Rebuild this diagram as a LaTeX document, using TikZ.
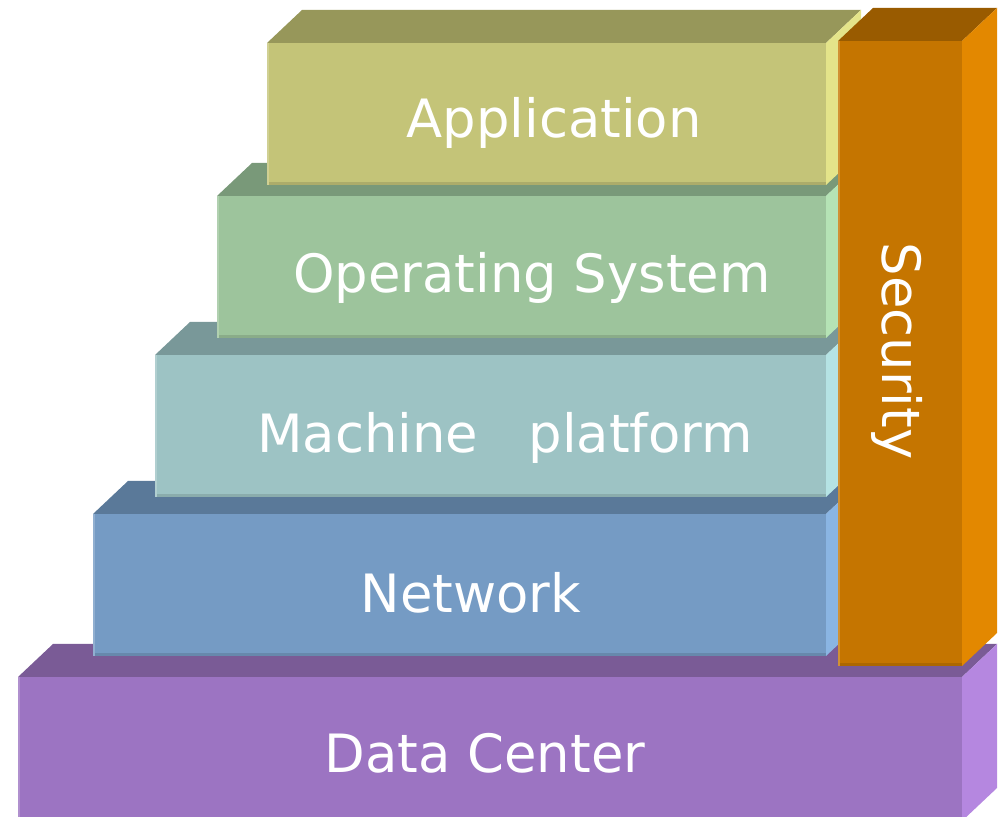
\documentclass[tikz,border=0pt]{standalone}
\usepackage{fontspec}
\setmainfont{DejaVu Sans}
\usepackage{tikz}
\usetikzlibrary{positioning}

\definecolor{appfront}{RGB}{196,196,120}
\definecolor{apptop}{RGB}{151,151,90}
\definecolor{appside}{RGB}{228,228,138}
\definecolor{osfront}{RGB}{157,196,156}
\definecolor{ostop}{RGB}{121,153,121}
\definecolor{osside}{RGB}{181,227,181}
\definecolor{macfront}{RGB}{157,195,196}
\definecolor{mactop}{RGB}{121,152,153}
\definecolor{macside}{RGB}{181,227,228}
\definecolor{netfront}{RGB}{117,155,196}
\definecolor{nettop}{RGB}{90,121,153}
\definecolor{netside}{RGB}{138,181,227}
\definecolor{dcfront}{RGB}{156,116,194}
\definecolor{dctop}{RGB}{122,91,150}
\definecolor{dcside}{RGB}{181,135,224}
\definecolor{secfront}{RGB}{197,117,0}
\definecolor{sectop}{RGB}{153,91,0}
\definecolor{secside}{RGB}{227,136,0}

% one box: x1, y1 (bottom), x2, y2 (top), colour prefix
\newcommand{\slab}[5]{%
  \fill[#5top] (#1bp,#4bp) -- (#1bp+35bp,#4bp+33bp) -- (#3bp+35bp,#4bp+33bp) -- (#3bp,#4bp) -- cycle;
  \fill[#5side] (#3bp,#2bp) -- (#3bp,#4bp) -- (#3bp+35bp,#4bp+33bp) -- (#3bp+35bp,#2bp+33bp) -- cycle;
  \fill[#5front] (#1bp,#2bp) rectangle (#3bp,#4bp);
  \fill[#5front!88!black] (#1bp,#2bp) rectangle (#3bp,#2bp+3bp);
  \fill[#5front!80!white] (#1bp,#2bp) rectangle (#1bp+2bp,#4bp);
}

\begin{document}
\begin{tikzpicture}[layer/.style={text=white,font=\fontsize{53}{60}\selectfont,anchor=base,inner sep=0pt}]
%%
\useasboundingbox (0bp,0bp) rectangle (1004bp,817bp);
\slab{18}{-4}{962}{140}{dc}
\slab{93}{161}{826}{303}{net}
\slab{155}{320}{826}{462}{mac}
\slab{217}{479}{826}{621}{os}
\slab{267}{632}{826}{774}{app}
\slab{838}{151}{962}{776}{sec}
%
\node (datacenter) at (485bp,44bp) [layer] {Data Center};
\node (network) at (471bp,204bp) [layer] {Network};
\node (machine) at (505bp,364bp) [layer] {Machine\ \ \ platform};
\node (os) at (532bp,524bp) [layer] {Operating System};
\node (application) at (554bp,679bp) [layer] {Application};
\node (security) at (882bp,466bp) [layer,rotate=-90] {Security};
%
\end{tikzpicture}
\end{document}
